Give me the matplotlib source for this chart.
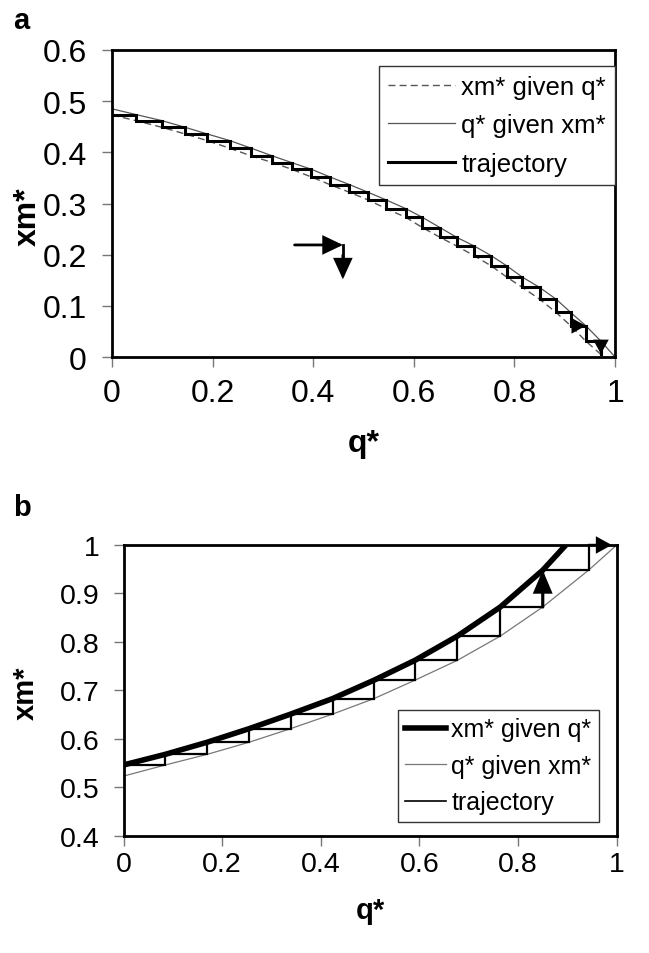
import matplotlib
matplotlib.use('Agg')
import matplotlib.pyplot as plt
from matplotlib.lines import Line2D

plt.rcParams['font.family'] = ['Liberation Sans', 'DejaVu Sans']

# ---------------- data: panel a ----------------
a_xticks = [0, 0.2, 0.4, 0.6, 0.8, 1.0]
a_xticklabels = ['0', '0.2', '0.4', '0.6', '0.8', '1']
a_yticks = [0, 0.1, 0.2, 0.3, 0.4, 0.5, 0.6]
a_yticklabels = ['0', '0.1', '0.2', '0.3', '0.4', '0.5', '0.6']

# xm* given q* (dashed)
a_xmq_q = [0, 0.047, 0.099, 0.145, 0.189, 0.234, 0.277, 0.319, 0.357, 0.396, 0.433,
           0.472, 0.509, 0.545, 0.584, 0.617, 0.652, 0.685, 0.720, 0.754, 0.785,
           0.816, 0.850, 0.883, 0.912, 0.942, 0.972, 0.978]
a_xmq_xm = [0.473, 0.462, 0.449, 0.436, 0.423, 0.408, 0.393, 0.380, 0.367, 0.352, 0.337,
            0.322, 0.307, 0.290, 0.273, 0.253, 0.234, 0.217, 0.198, 0.178, 0.156,
            0.136, 0.113, 0.087, 0.061, 0.031, 0.005, 0.0]
# q* given xm* (thin solid)
a_qxm_q = [0, 0.047, 0.099, 0.145, 0.189, 0.234, 0.277, 0.319, 0.357, 0.396, 0.433,
           0.472, 0.509, 0.545, 0.584, 0.617, 0.652, 0.685, 0.720, 0.754, 0.785,
           0.816, 0.850, 0.883, 0.912, 0.942, 0.972, 1.0]
a_qxm_xm = [0.485, 0.474, 0.462, 0.449, 0.436, 0.423, 0.408, 0.393, 0.380, 0.367, 0.352,
            0.337, 0.322, 0.307, 0.290, 0.273, 0.253, 0.234, 0.217, 0.198, 0.178,
            0.156, 0.136, 0.113, 0.087, 0.061, 0.031, 0.0]
# trajectory: drop positions (q) and levels (xm)
a_traj_q = [0.047, 0.099, 0.145, 0.189, 0.234, 0.277, 0.319, 0.357, 0.396, 0.433,
            0.472, 0.509, 0.545, 0.584, 0.617, 0.652, 0.685, 0.720, 0.754, 0.785,
            0.816, 0.850, 0.883, 0.912, 0.942, 0.972]
a_traj_xm = [0.473, 0.462, 0.449, 0.436, 0.423, 0.408, 0.393, 0.380, 0.367, 0.352,
             0.337, 0.322, 0.307, 0.290, 0.273, 0.253, 0.234, 0.217, 0.198, 0.178,
             0.156, 0.136, 0.113, 0.087, 0.061, 0.031, 0.006]
# direction arrows (q, xm)
a_arrow_start = (0.363, 0.219)
a_arrow_corner = (0.459, 0.219)
a_arrow_end = (0.459, 0.152)

# ---------------- data: panel b ----------------
b_xticks = [0, 0.2, 0.4, 0.6, 0.8, 1.0]
b_xticklabels = ['0', '0.2', '0.4', '0.6', '0.8', '1']
b_yticks = [0.4, 0.5, 0.6, 0.7, 0.8, 0.9, 1.0]
b_yticklabels = ['0.4', '0.5', '0.6', '0.7', '0.8', '0.9', '1']

b_xmq_q = [0, 0.085, 0.170, 0.255, 0.339, 0.424, 0.508, 0.591, 0.677, 0.764, 0.850, 0.897]
b_xmq_xm = [0.546, 0.568, 0.593, 0.621, 0.651, 0.683, 0.721, 0.762, 0.812, 0.872, 0.948, 1.0]
b_qxm_q = [0, 0.085, 0.170, 0.255, 0.339, 0.424, 0.508, 0.591, 0.677, 0.764, 0.850, 0.943, 1.0]
b_qxm_xm = [0.523, 0.546, 0.568, 0.593, 0.621, 0.651, 0.683, 0.721, 0.762, 0.812, 0.872, 0.948, 1.0]
b_traj_q = [0.085, 0.170, 0.255, 0.339, 0.424, 0.508, 0.591, 0.677, 0.764, 0.850, 0.943]
b_traj_xm = [0.546, 0.568, 0.593, 0.621, 0.651, 0.683, 0.721, 0.762, 0.812, 0.872, 0.948, 1.0]
b_top_arrow_end = 0.99

legend_labels = ['xm* given q*', 'q* given xm*', 'trajectory']

W, H = 649, 954
fig = plt.figure(figsize=(W / 100, H / 100), dpi=100)


def stair(qs, levels):
    xs, ys = [0.0], [levels[0]]
    for k, q in enumerate(qs):
        xs += [q, q]
        ys += [levels[k], levels[k + 1]]
    return xs, ys


def arrow(ax, start, end, scale, hl, hw, lw):
    ax.annotate('', xy=end, xytext=start,
                arrowprops=dict(arrowstyle=f'-|>,head_length={hl},head_width={hw}',
                                mutation_scale=scale, lw=lw, color='black',
                                shrinkA=0, shrinkB=0, joinstyle='miter'),
                annotation_clip=False)


def style_axes(ax, fs, xpad, ypad):
    for s in ax.spines.values():
        s.set_linewidth(2.0)
        s.set_color('black')
    ax.tick_params(direction='out', length=7, width=1, color='#777777', labelsize=fs)
    ax.tick_params(axis='x', pad=xpad)
    ax.tick_params(axis='y', pad=ypad)


# ---------------- panel a ----------------
axa = fig.add_axes([112 / W, 1 - 358 / H, (615 - 112) / W, (358 - 51) / H])
axa.plot(a_xmq_q, a_xmq_xm, color='#555555', lw=1.0, ls=(0, (5, 3)))
axa.plot(a_qxm_q, a_qxm_xm, color='#555555', lw=0.9)
tx, ty = stair(a_traj_q, a_traj_xm)
axa.plot(tx, ty, color='black', lw=2.2, solid_joinstyle='miter')
arrow(axa, (a_traj_q[23], a_traj_xm[24]), (a_traj_q[24], a_traj_xm[24]), 8, 1.0, 0.55, 1.5)
arrow(axa, (a_traj_q[25], a_traj_xm[25]), (a_traj_q[25], a_traj_xm[26]), 8, 1.0, 0.55, 1.5)
arrow(axa, a_arrow_start, a_arrow_corner, 10, 1.15, 0.55, 2.0)
axa.plot([a_arrow_corner[0], a_arrow_corner[0]], [a_arrow_corner[1], a_arrow_end[1] + 0.02],
         color='black', lw=2.0)
arrow(axa, (a_arrow_corner[0], a_arrow_corner[1] - 0.02), a_arrow_end, 10, 1.2, 0.55, 2.0)
axa.set_xlim(0, 1)
axa.set_ylim(0, 0.6)
axa.set_xticks(a_xticks)
axa.set_xticklabels(a_xticklabels)
axa.set_yticks(a_yticks)
axa.set_yticklabels(a_yticklabels)
style_axes(axa, 23, 8, 11)
axa.set_xlabel('q*', fontsize=23, fontweight='bold')
axa.set_ylabel('xm*', fontsize=23, fontweight='bold')
axa.xaxis.set_label_coords(0.5, -0.23)
axa.yaxis.set_label_coords(-0.137, 0.46)
ha = [Line2D([], [], color='#555555', lw=1.0, ls=(0, (5, 3))),
      Line2D([], [], color='#555555', lw=0.9),
      Line2D([], [], color='black', lw=2.2)]
leg = axa.legend(ha, legend_labels, loc='upper right', bbox_to_anchor=(1.0, 0.947),
                 borderaxespad=0, fontsize=18.5, handlelength=2.6, handletextpad=0.25,
                 labelspacing=0.55, borderpad=0.35, fancybox=False, framealpha=1,
                 edgecolor='#333333')
leg.get_frame().set_linewidth(1.0)
fig.text(13 / W, 1 - 21 / H, 'a', fontsize=21, fontweight='bold', va='center', ha='left')

# ---------------- panel b ----------------
axb = fig.add_axes([123.5 / W, 1 - 836.7 / H, (616.7 - 123.5) / W, (836.7 - 546) / H])
axb.plot(b_qxm_q, b_qxm_xm, color='#777777', lw=0.9)
axb.plot(b_xmq_q, b_xmq_xm, color='black', lw=4.0, solid_capstyle='butt')
tx, ty = stair(b_traj_q, b_traj_xm)
axb.plot(tx, ty, color='black', lw=1.6, solid_joinstyle='miter')
axb.plot([b_traj_q[-1], b_top_arrow_end - 0.02], [b_traj_xm[-1], b_traj_xm[-1]],
         color='black', lw=1.6, clip_on=False)
arrow(axb, (b_traj_q[-1], b_traj_xm[-1]), (b_top_arrow_end, b_traj_xm[-1]), 9, 1.0, 0.55, 1.6)
arrow(axb, (b_traj_q[9], b_traj_xm[9]), (b_traj_q[9], b_traj_xm[10]), 10, 1.3, 0.55, 2.2)
axb.set_xlim(0, 1)
axb.set_ylim(0.4, 1.0)
axb.set_xticks(b_xticks)
axb.set_xticklabels(b_xticklabels)
axb.set_yticks(b_yticks)
axb.set_yticklabels(b_yticklabels)
style_axes(axb, 20.5, 4, 10)
axb.set_xlabel('q*', fontsize=21, fontweight='bold')
axb.set_ylabel('xm*', fontsize=21, fontweight='bold')
axb.xaxis.set_label_coords(0.5, -0.207)
axb.yaxis.set_label_coords(-0.17, 0.494)
hb = [Line2D([], [], color='black', lw=4.0),
      Line2D([], [], color='#777777', lw=0.9),
      Line2D([], [], color='black', lw=1.2)]
leg = axb.legend(hb, legend_labels, loc='upper right', bbox_to_anchor=(0.964, 0.433),
                 borderaxespad=0, fontsize=18, handlelength=1.65, handletextpad=0.2,
                 labelspacing=0.5, borderpad=0.3, fancybox=False, framealpha=1,
                 edgecolor='#333333')
leg.get_frame().set_linewidth(1.0)
fig.text(13 / W, 1 - 508 / H, 'b', fontsize=21, fontweight='bold', va='center', ha='left')

fig.savefig('out.png', dpi=100)
